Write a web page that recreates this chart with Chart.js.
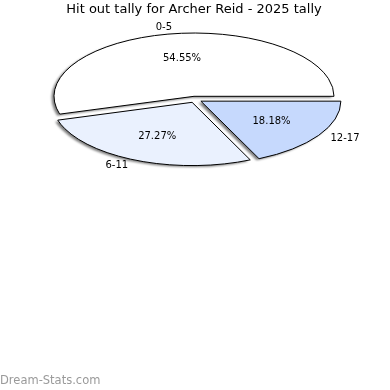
<!DOCTYPE html>
<html>
<head>
<meta charset="utf-8">
<script src="https://cdn.jsdelivr.net/npm/chart.js@4.4.1/dist/chart.umd.min.js"></script>
<style>
  html, body { margin: 0; padding: 0; background: #fff; }
  canvas { display: block; }
</style>
</head>
<body>
<canvas id="pieChart" width="390" height="390"></canvas>
<script>
// Datos del gráfico
const titleText = 'Hit out tally for Archer Reid - 2025 tally';
const categories = ['0-5', '6-11', '12-17'];
const hitOuts = [6, 3, 2];
const sliceColors = ['#ffffff', '#eaf1fe', '#c6d9fd'];
const watermark = 'Dream-Stats.com';

// Aspecto de la elipse y separación de las porciones
const SQUASH = 0.452;
const EXPLODE = 7;
const SHADOW_DX = -2.5;
const SHADOW_DY = 1.5;
const FONT = '"DejaVu Sans", "Liberation Sans", sans-serif';

// Chart.js dibuja en sentido horario: se invierte el orden
const drawOrder = categories.map((c, i) => i).reverse();

function explodeShift(ctx, arc) {
    const mid = (arc.startAngle + arc.endAngle) / 2;
    ctx.translate(Math.cos(mid) * EXPLODE, Math.sin(mid) * EXPLODE);
}

function arcPath(ctx, arc) {
    ctx.beginPath();
    ctx.moveTo(arc.x, arc.y);
    ctx.arc(arc.x, arc.y, arc.outerRadius, arc.startAngle, arc.endAngle);
    ctx.closePath();
}

const squashedPie = {
    id: 'squashedPie',
    beforeDatasetsDraw(chart) {
        const ctx = chart.ctx;
        const arcs = chart.getDatasetMeta(0).data;
        const base = ctx.getTransform();

        // Sombras
        ctx.save();
        ctx.filter = 'blur(1px)';
        ctx.fillStyle = 'rgba(0, 0, 0, 0.5)';
        arcs.forEach(arc => {
            ctx.save();
            ctx.translate(SHADOW_DX, SHADOW_DY);
            ctx.scale(1, SQUASH);
            explodeShift(ctx, arc);
            arcPath(ctx, arc);
            ctx.fill();
            ctx.restore();
        });
        ctx.restore();

        // Porciones
        arcs.forEach(arc => {
            ctx.save();
            ctx.scale(1, SQUASH);
            explodeShift(ctx, arc);
            arc.draw(ctx);
            arcPath(ctx, arc);
            ctx.setTransform(base);
            ctx.lineWidth = 1;
            ctx.strokeStyle = '#000';
            ctx.lineJoin = 'miter';
            ctx.stroke();
            ctx.restore();
        });
        return false;
    },
    afterDraw(chart) {
        const ctx = chart.ctx;
        const arcs = chart.getDatasetMeta(0).data;
        const total = hitOuts.reduce((a, b) => a + b, 0);

        ctx.save();
        ctx.fillStyle = '#000';
        ctx.font = '13px ' + FONT;
        ctx.textAlign = 'center';
        ctx.textBaseline = 'middle';
        ctx.fillText(titleText, 194, 10);

        ctx.font = '10px ' + FONT;
        arcs.forEach((arc, i) => {
            const idx = drawOrder[i];
            const mid = (arc.startAngle + arc.endAngle) / 2;
            const cx = arc.x + Math.cos(mid) * EXPLODE;
            const cy = (arc.y + Math.sin(mid) * EXPLODE) * SQUASH;

            // Etiqueta de categoría
            const lx = cx + Math.cos(mid) * arc.outerRadius * 1.1;
            const ly = cy + Math.sin(mid) * arc.outerRadius * 1.1 * SQUASH;
            ctx.textAlign = lx > arc.x ? 'left' : 'right';
            ctx.fillText(categories[idx], lx, ly);

            // Porcentaje
            const px = cx + Math.cos(mid) * arc.outerRadius * 0.6;
            const py = cy + Math.sin(mid) * arc.outerRadius * 0.6 * SQUASH;
            ctx.textAlign = 'center';
            ctx.fillText((hitOuts[idx] / total * 100).toFixed(2) + '%', px, py);
        });

        ctx.fillStyle = '#9a9a9a';
        ctx.font = '11.5px ' + FONT;
        ctx.textAlign = 'left';
        ctx.textBaseline = 'alphabetic';
        ctx.fillText(watermark, 0, 384);
        ctx.restore();
    }
};

new Chart(document.getElementById('pieChart'), {
    type: 'pie',
    data: {
        labels: drawOrder.map(i => categories[i]),
        datasets: [{
            data: drawOrder.map(i => hitOuts[i]),
            backgroundColor: drawOrder.map(i => sliceColors[i]),
            borderWidth: 0,
            rotation: 90,
            radius: 140
        }]
    },
    options: {
        responsive: false,
        animation: false,
        layout: { padding: { top: 50, bottom: 0, left: 0, right: 0 } },
        plugins: {
            legend: { display: false },
            tooltip: { enabled: false },
            title: { display: false }
        }
    },
    plugins: [squashedPie]
});
</script>
</body>
</html>
